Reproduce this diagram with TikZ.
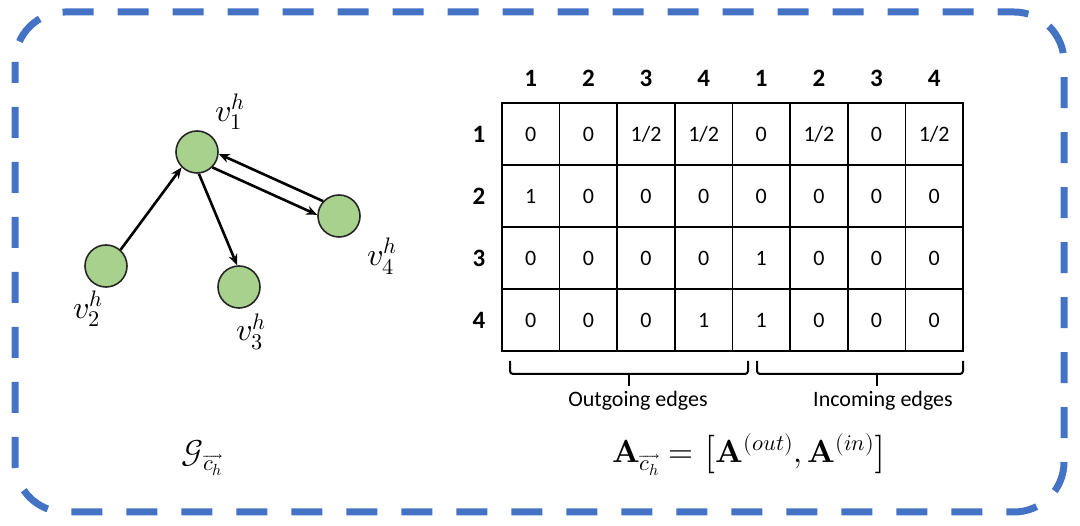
\documentclass[tikz,border=0pt]{standalone}
\usepackage{amsmath}
\usepackage{unicode-math}
\setmainfont{Carlito}
\setmathfont{Latin Modern Math}
\usetikzlibrary{arrows.meta}
\definecolor{frameblue}{HTML}{4472C4}
\definecolor{nodegreen}{HTML}{A9D18E}
\begin{document}
\begin{tikzpicture}[x=1pt,y=-1pt,
  vtx/.style={circle,draw=black!85,line width=1.6pt,fill=nodegreen,minimum size=42pt,inner sep=0pt},
  edge/.style={line width=2.6pt,-{Stealth[length=11pt,width=9pt]}},
  vlab/.style={font=\fontsize{32}{36}\selectfont},
  cell/.style={draw=black,line width=1.6pt,minimum width=57.625pt,minimum height=62pt,inner sep=0pt,font=\fontsize{22}{26}\selectfont},
  head/.style={font=\fontsize{25}{30}\selectfont\bfseries},
  brace/.style={line width=2pt,rounded corners=3pt},
  blab/.style={font=\fontsize{22}{26}\selectfont}]
\useasboundingbox (0,0) rectangle (1080,526);
% frame
\draw[frameblue,line width=7pt,dash pattern=on 31pt off 24pt,rounded corners=50pt,dash phase=10pt]
  (15,12) rectangle (1064,512);
% graph
\node[vtx] (v1) at (197,152) {};
\node[vtx] (v4) at (339,216) {};
\node[vtx] (v2) at (106,266) {};
\node[vtx] (v3) at (239,287) {};
\node[vlab] (l1) at (230,112) {$v_1^h$};
\node[vlab] (l4) at (382,256) {$v_4^h$};
\node[vlab] (l2) at (88,309) {$v_2^h$};
\node[vlab] (l3) at (251,332) {$v_3^h$};
\draw[edge] (v2.48) -- (v1.-135);
\draw[edge] (v1.-85) -- (v3.95);
\draw[edge] (v1.-45) -- (v4.177);
\draw[edge] (v4.137) -- (v1.-5);
\node[font=\fontsize{32}{36}\selectfont] (G) at (202,458) {$\mathcal{G}_{\overrightarrow{c_h}}$};
% table
\foreach \h [count=\j] in {1,2,3,4,1,2,3,4}{
  \node[head] (h\j) at ({502+57.625*(\j-0.5)},78) {\h};
}
\foreach \r in {1,...,4}{
  \node[head] (r\r) at (479,{103+62*(\r-0.5)}) {\r};
}
\foreach \row [count=\i] in {{0,0,1/2,1/2,0,1/2,0,1/2},{1,0,0,0,0,0,0,0},{0,0,0,0,1,0,0,0},{0,0,0,1,1,0,0,0}}{
  \foreach \v [count=\j] in \row {
    \node[cell] (c\i\j) at ({502+57.625*(\j-0.5)},{103+62*(\i-0.5)}) {\v};
  }
}
% braces
\draw[brace] (510,361) -- (510,374) -- (748,374) -- (748,361);
\draw[line width=2pt] (629,374) -- (629,386);
\draw[brace] (757,361) -- (757,374) -- (963,374) -- (963,361);
\draw[line width=2pt] (877,374) -- (877,386);
\node[blab] (out) at (638,401) {Outgoing edges};
\node[blab] (in) at (883,401) {Incoming edges};
\node[font=\fontsize{32}{36}\selectfont] (A) at (750,455)
  {$\symbf{A}_{\overrightarrow{c_h}}=\left[\symbf{A}^{(out)},\symbf{A}^{(in)}\right]$};
\end{tikzpicture}
\end{document}
